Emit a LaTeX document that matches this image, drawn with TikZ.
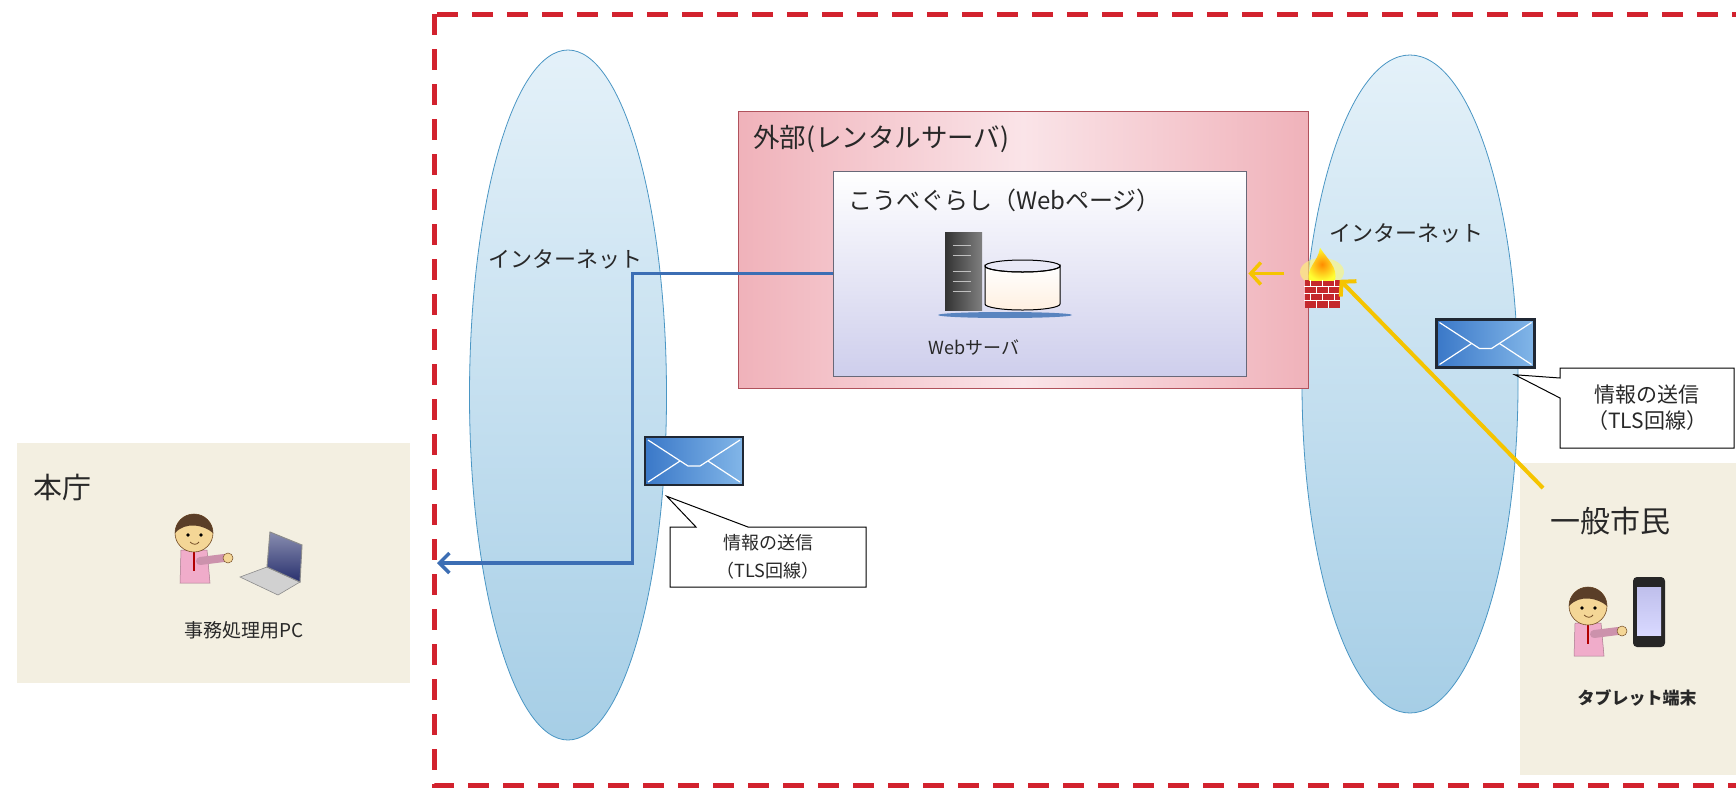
\documentclass[tikz,border=0pt]{standalone}
\usepackage{fontspec}
\setmainfont{Noto Sans CJK JP}
\usepackage{tikz}
\usetikzlibrary{arrows.meta,positioning,shapes.geometric,shapes.callouts,calc}

\definecolor{zonered}{RGB}{210,34,46}
\definecolor{netlight}{RGB}{228,241,249}
\definecolor{netdark}{RGB}{166,206,230}
\definecolor{netline}{RGB}{74,150,196}
\definecolor{sitebeige}{RGB}{243,239,225}
\definecolor{pinkedge}{RGB}{240,178,186}
\definecolor{pinkmid}{RGB}{250,228,232}
\definecolor{hostline}{RGB}{176,82,92}
\definecolor{pagelav}{RGB}{206,206,236}
\definecolor{pageline}{RGB}{104,104,120}
\definecolor{inkgray}{RGB}{40,40,40}
\definecolor{wireblue}{RGB}{60,110,180}
\definecolor{flowyellow}{RGB}{245,196,0}
\definecolor{mailblue}{RGB}{58,120,200}
\definecolor{maillight}{RGB}{130,182,232}
\definecolor{mailedge}{RGB}{32,40,52}
\definecolor{brickred}{RGB}{196,40,44}
\definecolor{skin}{RGB}{244,214,150}
\definecolor{hair}{RGB}{90,62,40}
\definecolor{shirtpink}{RGB}{240,172,202}
\definecolor{screennavy}{RGB}{40,48,110}

\newcommand{\pxfont}[2]{\fontsize{#1}{#2}\selectfont}

\begin{document}
\begin{tikzpicture}[x=1pt, y=-1pt,
  zone/.style={draw=zonered, line width=5pt, dash pattern=on 21pt off 14pt},
  site/.style={fill=sitebeige, inner sep=0pt},
  net/.style={ellipse, draw=netline, line width=0.8pt, top color=netlight,
    bottom color=netdark, inner sep=0pt},
  host/.style={draw=hostline, line width=0.8pt, left color=pinkedge,
    right color=pinkedge, middle color=pinkmid, inner sep=0pt},
  page/.style={draw=pageline, line width=0.8pt, top color=white,
    bottom color=pagelav, inner sep=0pt},
  tag/.style={inner sep=0pt, text=inkgray},
  mail/.style={draw=mailedge, line width=2.5pt, left color=mailblue,
    right color=maillight, minimum width=98pt, minimum height=48pt, inner sep=0pt},
  flap/.style={white, line width=1.2pt},
  note/.style={rectangle callout, draw=black, line width=1pt, fill=white,
    align=center, inner sep=0pt, text=inkgray},
  wire/.style={draw=wireblue, line width=3.5pt,
    -{Straight Barb[length=10pt,width=20pt]}},
  flow/.style={draw=flowyellow, line width=4pt,
    -{Straight Barb[length=10pt,width=22pt]}},
  mortar/.style={white, line width=0.9pt},
  person/.pic={
    % body and tie
    \fill[shirtpink, draw=shirtpink!70!black, line width=0.5pt]
      (-13,17) -- (13,17) -- (16,50) -- (-14,50) -- cycle;
    \draw[red!70!black, line width=1.5pt] (0,19) -- (0,38);
    % pointing arm
    \draw[shirtpink!85!black, line width=8pt, line cap=round] (6,28) -- (30,25);
    \fill[skin, draw=brown!60!black, line width=0.5pt] (34,25) circle (5);
    % head
    \fill[skin, draw=brown!60!black, line width=0.6pt] (0,0) circle (19);
    \fill[hair] (-19,0) arc[start angle=180, end angle=360, radius=19]
      .. controls (10,-8) and (-8,-12) .. cycle;
    \fill[black] (-6,2) circle (1.8) (7,2) circle (1.8);
    \draw[brown!60!black, line width=0.8pt] (-4,9) .. controls (-1,12) and (3,12) .. (5,9);
  },
  laptop/.pic={
    \filldraw[fill=black!18, draw=black!45, line width=0.6pt]
      (-27,10) -- (0,0) -- (33,15) -- (11,28) -- cycle;
    \shadedraw[top color=screennavy!55, bottom color=screennavy, draw=black!45,
      line width=1pt] (0,0) -- (3,-35) -- (35,-22) -- (33,15) -- cycle;
  },
  phone/.pic={
    \fill[black!85, rounded corners=4pt] (-16,-35) rectangle (16,35);
    \shade[top color=black!30!blue!25, bottom color=blue!15] (-12,-25) rectangle (12,23);
  }
]

\fill[white] (0,0) rectangle (1736,788);
\useasboundingbox (0,0) rectangle (1736,788);

% Dashed zone
\draw[zone] (434,14) rectangle (1740,785);

% Head office
\node[site, minimum width=393pt, minimum height=240pt] (hq) at (213.5,563) {};
\node[tag, anchor=west, font=\pxfont{29}{34}] (hq-title) at (33,487) {本庁};
\pic at (194,533) {person};
\pic at (267,567) {laptop};
\node[tag, font=\pxfont{19}{23}] (pc) at (244,630) {事務処理用PC};

% Citizen
\node[site, minimum width=240pt, minimum height=312pt] (home) at (1640,619) {};
\node[tag, anchor=west, font=\pxfont{30}{35}] (home-title) at (1550,521) {一般市民};
\pic at (1588,606) {person};
\pic at (1649,612) {phone};
\node[tag, font=\pxfont{17}{20}\bfseries] (tab) at (1637,698) {タブレット端末};

% Internet clouds
\node[net, minimum width=197pt, minimum height=690pt] (net-l) at (568,395) {};
\node[net, minimum width=216pt, minimum height=658pt] (net-r) at (1410,384) {};
\node[tag, font=\pxfont{22}{26}] (net-l-title) at (565,259) {インターネット};
\node[tag, font=\pxfont{22}{26}] (net-r-title) at (1406,233) {インターネット};

% Rental server
\node[host, minimum width=570pt, minimum height=277pt] (ext) at (1023,249.5) {};
\node[tag, anchor=west, font=\pxfont{26.5}{30}] (ext-title) at (753,139) {外部(レンタルサーバ)};
\node[page, minimum width=413pt, minimum height=205pt] (web) at (1039.5,273.5) {};
\node[tag, anchor=west, font=\pxfont{24}{30}] (web-title) at (848,200) {こうべぐらし（Webページ）};

% Web server
\fill[wireblue!85] (1005,315) ellipse (67 and 3);
\node[left color=black!80, right color=black!50, minimum width=37pt,
  minimum height=78pt, inner sep=0pt] (tower) at (963.5,271) {};
\foreach \d in {14,24,40,50,60}
  \draw[black!25, line width=1pt] ([shift={(8,\d)}]tower.north west) -- ++(18,0);
\shadedraw[top color=white, bottom color=orange!12, draw=black, line width=1pt]
  (985,266) -- (985,304) arc[start angle=180, end angle=0, x radius=37.5, y radius=6]
  -- (1060,266) arc[start angle=0, end angle=180, x radius=37.5, y radius=6] -- cycle;
\draw[black, line width=1pt] (1022.5,266) ellipse (37.5 and 6);
\node[tag, font=\pxfont{18}{22}] (srv) at (974,348) {Webサーバ};

% Firewall
\fill[yellow!55, opacity=0.6] (1322,272) ellipse (22 and 14);
\node[fill=brickred, minimum width=35pt, minimum height=28pt, inner sep=0pt] (fw) at (1322,294) {};
\shade[inner color=orange!90!yellow, outer color=yellow!80]
  ($(fw.north)+(-13,1)$) .. controls ($(fw.north)+(-16,-12)$) and ($(fw.north)+(-4,-18)$)
  .. ($(fw.north)+(-2,-32)$) .. controls ($(fw.north)+(6,-20)$) and ($(fw.north)+(16,-12)$)
  .. ($(fw.north)+(13,1)$) -- cycle;
\foreach \r in {7,14,21}
  \draw[mortar] ([shift={(0,\r)}]fw.north west) -- ([shift={(0,\r)}]fw.north east);
\foreach \r in {0,14} \foreach \c in {6,18,30}
  \draw[mortar] ([shift={(\c,\r)}]fw.north west) -- ++(0,7);
\foreach \r in {7,21} \foreach \c in {12,24}
  \draw[mortar] ([shift={(\c,\r)}]fw.north west) -- ++(0,7);

% Arrows
\coordinate (recv) at (437,563);
\draw[wire] (web.west) -- ++(-200,0) |- (recv);
\coordinate (send) at (1543,488);
\draw[flow] (send) -- (fw.north east);
\draw[flow, line width=3.5pt] ([xshift=38pt]web.east) -- ([xshift=2pt]web.east);

% Mail
\node[mail] (mail-l) at (694,461) {};
\node[mail] (mail-r) at (1485.5,343.5) {};
\foreach \m in {mail-l,mail-r} {
  \draw[flap] ($(\m.center)+(-46,-21)$) -- ($(\m.center)+(-6,5)$)
    -- ($(\m.center)+(6,5)$) -- ($(\m.center)+(46,-21)$);
  \draw[flap] ($(\m.center)+(-46,21)$) -- ($(\m.center)+(-14,0)$);
  \draw[flap] ($(\m.center)+(46,21)$) -- ($(\m.center)+(14,0)$);
}

% Notes
\node[note, font=\pxfont{18}{28}, minimum width=196pt, minimum height=60pt,
  callout absolute pointer={($(mail-l.south west)+(23,10)$)},
  callout pointer width=52pt] (note-l) at (768,557) {情報の送信\\（TLS回線）};
\node[note, font=\pxfont{21}{26}, minimum width=174pt, minimum height=80pt,
  callout absolute pointer={($(mail-r.south east)+(-21,6)$)},
  callout pointer width=20pt] (note-r) at (1647,408) {情報の送信\\（TLS回線）};

\end{tikzpicture}
\end{document}
